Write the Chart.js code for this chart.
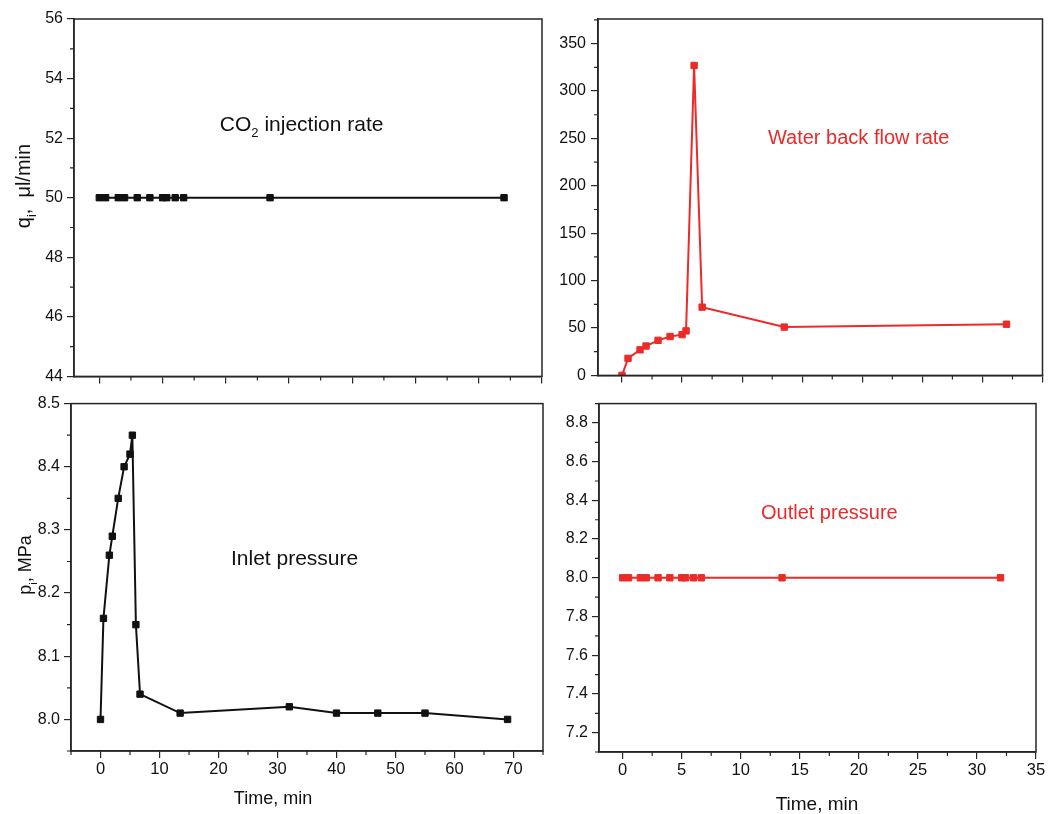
<!DOCTYPE html>
<html>
<head>
<meta charset="utf-8">
<script src="https://cdn.jsdelivr.net/npm/chart.js@4.4.1/dist/chart.umd.min.js"></script>
<style>
    body { margin: 0; background: #fff; }
    #wrap { position: relative; width: 1048px; height: 814px; }
    canvas { position: absolute; }
</style>
</head>
<body>
<div id="wrap">
    <canvas id="rateChart" width="560" height="390" style="left:0;top:0"></canvas>
    <canvas id="flowChart" width="488" height="390" style="left:560px;top:0"></canvas>
    <canvas id="inletChart" width="560" height="424" style="left:0;top:390px"></canvas>
    <canvas id="outletChart" width="488" height="424" style="left:560px;top:390px"></canvas>
</div>
<script>
//------------Data-----------------

// time points of the short runs (minutes)
const timeShort = [0, 0.5, 1.5, 2, 3, 4, 5, 5.33, 6, 6.67, 13.5, 32];
const co2Rate = [50, 50, 50, 50, 50, 50, 50, 50, 50, 50, 50, 50];
const waterBackFlow = [0, 18, 27, 31, 37, 41, 43, 47, 327, 72, 51, 54];
const outletPressure = [8.0, 8.0, 8.0, 8.0, 8.0, 8.0, 8.0, 8.0, 8.0, 8.0, 8.0, 8.0];

// inlet pressure run (minutes)
const timeInlet = [0, 0.5, 1.5, 2, 3, 4, 5, 5.4, 6, 6.7, 13.5, 32, 40, 47, 55, 69];
const inletPressure = [8.00, 8.16, 8.26, 8.29, 8.35, 8.40, 8.42, 8.45, 8.15, 8.04, 8.01, 8.02, 8.01, 8.01, 8.01, 8.00];

// tick labels
const ticksTime35 = [0, 5, 10, 15, 20, 25, 30, 35];
const ticksTime70 = [0, 10, 20, 30, 40, 50, 60, 70];
const ticksRate = [44, 46, 48, 50, 52, 54, 56];
const ticksFlow = [0, 50, 100, 150, 200, 250, 300, 350];
const ticksInlet = [8.0, 8.1, 8.2, 8.3, 8.4, 8.5];
const ticksOutlet = [7.2, 7.4, 7.6, 7.8, 8.0, 8.2, 8.4, 8.6, 8.8];

//------------Style-----------------

const FONT = '"Liberation Sans", Arial, sans-serif';
const AXIS = '#262626';
const BLACK = '#111111';
const RED = '#ec2a2a';

function minorValues(min, max, step, majors) {
    const out = [];
    const start = Math.ceil(min / step - 1e-9);
    for (let i = start; i * step <= max + 1e-9; i++) {
        const v = i * step;
        if (!majors.some(m => Math.abs(m - v) < step / 10)) out.push(v);
    }
    return out;
}

// text with optional subscript parts, centred on (cx, cy)
function drawRich(c, parts, cx, cy, size, color) {
    let total = 0;
    const items = parts.map(([t, sub]) => {
        const fs = sub ? size * 0.62 : size;
        c.font = fs + 'px ' + FONT;
        const tw = c.measureText(t).width;
        total += tw;
        return { t, fs, tw, sub };
    });
    let x = cx - total / 2;
    const base = cy + size * 0.36;
    c.fillStyle = color;
    c.textAlign = 'left';
    c.textBaseline = 'alphabetic';
    items.forEach(it => {
        c.font = it.fs + 'px ' + FONT;
        c.fillText(it.t, x, it.sub ? base + size * 0.3 : base);
        x += it.tw;
    });
}

function extras(p) {
    return {
        id: 'extras',
        afterDraw(chart) {
            const c = chart.ctx;
            const a = chart.chartArea;
            const sx = chart.scales.x;
            const sy = chart.scales.y;
            c.save();

            // box round the plot
            c.strokeStyle = AXIS;
            c.lineWidth = 1.5;
            c.strokeRect(a.left, a.top, a.right - a.left, a.bottom - a.top);

            // minor ticks
            c.lineWidth = 1.2;
            c.beginPath();
            minorValues(p.xMin, p.xMax, p.xMinor, p.xTicks).forEach(v => {
                const px = sx.getPixelForValue(v);
                c.moveTo(px, a.bottom);
                c.lineTo(px, a.bottom + 4);
            });
            minorValues(p.yMin, p.yMax, p.yMinor, p.yTicks).forEach(v => {
                const py = sy.getPixelForValue(v);
                c.moveTo(a.left - 4, py);
                c.lineTo(a.left, py);
            });
            c.stroke();

            // label inside the plot
            drawRich(c, p.note, sx.getPixelForValue(p.noteAt[0]), sy.getPixelForValue(p.noteAt[1]), p.noteSize, p.color);

            if (p.yTitle) {
                c.save();
                c.translate(p.yTitleAt[0], p.yTitleAt[1]);
                c.rotate(-Math.PI / 2);
                drawRich(c, p.yTitle, 0, 0, p.yTitleSize, BLACK);
                c.restore();
            }
            if (p.xTitle) {
                drawRich(c, [[p.xTitle]], p.xTitleAt[0], p.xTitleAt[1], p.xTitleSize, BLACK);
            }
            c.restore();
        }
    };
}

function panel(id, p) {
    const ctx = document.getElementById(id).getContext('2d');
    return new Chart(ctx, {
        type: 'line',
        data: {
            datasets: [{
                data: p.x.map((t, i) => ({ x: t, y: p.y[i] })),
                borderColor: p.color,
                backgroundColor: p.color,
                borderWidth: 2,
                tension: 0,
                pointStyle: 'rect',
                pointRadius: 4.5,
                pointBorderWidth: 1,
                pointBorderColor: p.color,
                pointBackgroundColor: p.color
            }]
        },
        options: {
            responsive: false,
            animation: false,
            devicePixelRatio: 1,
            layout: { padding: p.pad },
            plugins: {
                legend: { display: false },
                tooltip: { enabled: false }
            },
            scales: {
                x: {
                    type: 'linear',
                    min: p.xMin,
                    max: p.xMax,
                    afterBuildTicks: s => { s.ticks = p.xTicks.map(v => ({ value: v })); },
                    afterFit: s => { s.height = p.xH; },
                    grid: { drawOnChartArea: false, drawTicks: true, tickLength: 7, color: AXIS, lineWidth: 1.2 },
                    border: { display: true, color: AXIS, width: 1.5 },
                    ticks: {
                        autoSkip: false,
                        maxRotation: 0,
                        padding: 2,
                        color: BLACK,
                        font: { family: FONT, size: 16.5 },
                        callback: v => p.xLabels ? String(v) : ''
                    }
                },
                y: {
                    type: 'linear',
                    min: p.yMin,
                    max: p.yMax,
                    afterBuildTicks: s => { s.ticks = p.yTicks.map(v => ({ value: v })); },
                    afterFit: s => { s.width = p.yW; },
                    grid: { drawOnChartArea: false, drawTicks: true, tickLength: 7, color: AXIS, lineWidth: 1.2 },
                    border: { display: true, color: AXIS, width: 1.5 },
                    ticks: {
                        autoSkip: false,
                        padding: p.yPad,
                        color: BLACK,
                        font: { family: FONT, size: 16 },
                        callback: v => p.yFmt(v)
                    }
                }
            }
        },
        plugins: [extras(p)]
    });
}

//------------Panels-----------------

panel('rateChart', {
    x: timeShort, y: co2Rate, color: BLACK,
    xMin: -2, xMax: 35, xTicks: ticksTime35, xMinor: 2.5, xLabels: false,
    yMin: 44, yMax: 56, yTicks: ticksRate, yMinor: 1, yFmt: v => String(v),
    pad: { left: 0, top: 19, right: 18, bottom: 0 }, yW: 74, xH: 12, yPad: 4,
    note: [['CO'], ['2', true], [' injection rate']], noteAt: [16, 52.5], noteSize: 21,
    yTitle: [['q'], ['i', true], [',  \u03bcl/min']], yTitleAt: [23, 186], yTitleSize: 20
});

panel('flowChart', {
    x: timeShort, y: waterBackFlow, color: RED,
    xMin: -2, xMax: 35, xTicks: ticksTime35, xMinor: 2.5, xLabels: false,
    yMin: 0, yMax: 376, yTicks: ticksFlow, yMinor: 25, yFmt: v => String(v),
    pad: { left: 0, top: 19, right: 4, bottom: 0 }, yW: 38, xH: 11, yPad: 5,
    note: [['Water back flow rate']], noteAt: [19.7, 252], noteSize: 20
});

panel('inletChart', {
    x: timeInlet, y: inletPressure, color: BLACK,
    xMin: -5, xMax: 75, xTicks: ticksTime70, xMinor: 5, xLabels: true,
    yMin: 7.95, yMax: 8.5, yTicks: ticksInlet, yMinor: 0.05, yFmt: v => v.toFixed(1),
    pad: { left: 0, top: 10, right: 17, bottom: 0 }, yW: 71, xH: 63, yPad: 4,
    note: [['Inlet pressure']], noteAt: [32.9, 8.257], noteSize: 21,
    yTitle: [['p'], ['i', true], [', MPa']], yTitleAt: [25, 175], yTitleSize: 18,
    xTitle: 'Time, min', xTitleAt: [273, 408], xTitleSize: 18
});

panel('outletChart', {
    x: timeShort, y: outletPressure, color: RED,
    xMin: -2, xMax: 35, xTicks: ticksTime35, xMinor: 2.5, xLabels: true,
    yMin: 7.1, yMax: 8.9, yTicks: ticksOutlet, yMinor: 0.1, yFmt: v => v.toFixed(1),
    pad: { left: 0, top: 12, right: 12, bottom: 0 }, yW: 39, xH: 62, yPad: 4,
    note: [['Outlet pressure']], noteAt: [17.5, 8.343], noteSize: 20,
    xTitle: 'Time, min', xTitleAt: [257, 413], xTitleSize: 19
});
</script>
</body>
</html>
